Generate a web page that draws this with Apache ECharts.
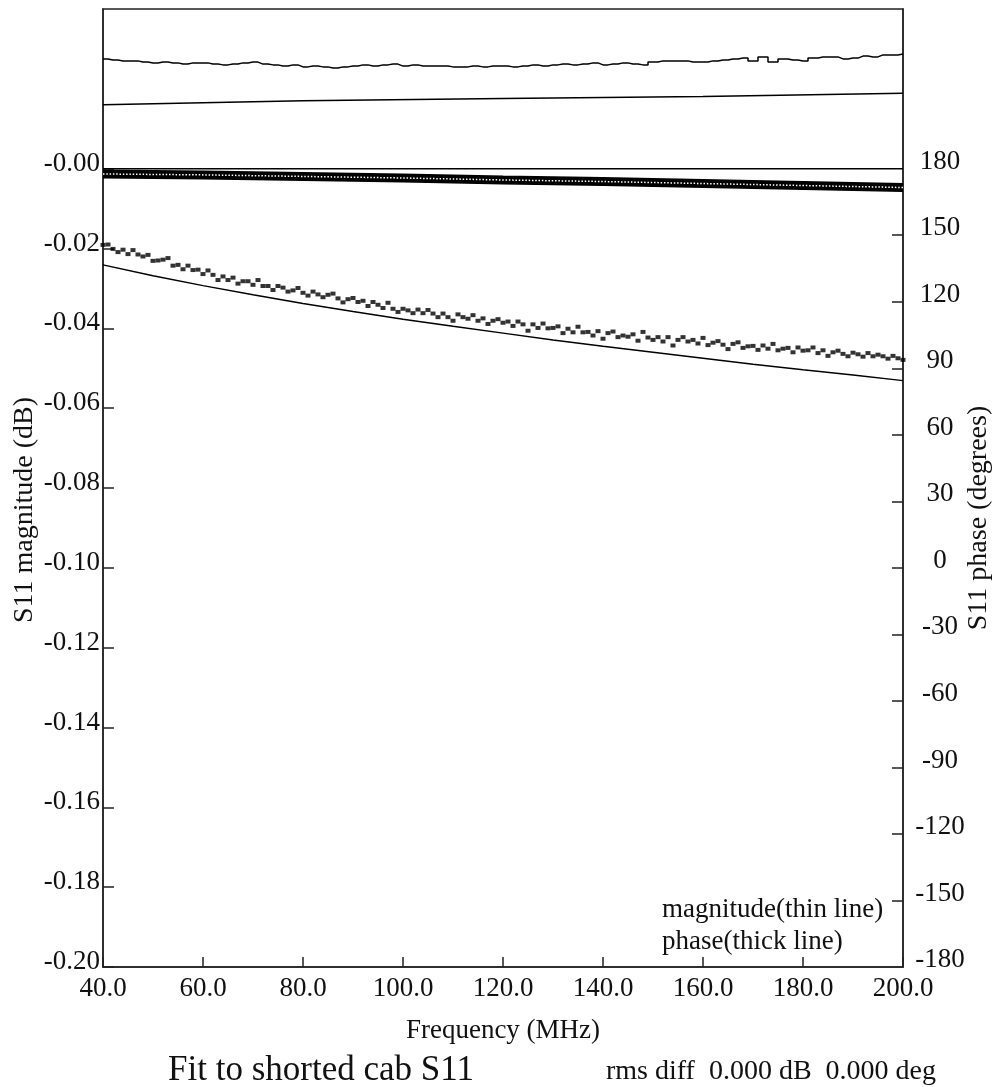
<!DOCTYPE html>
<html>
<head>
<meta charset="utf-8">
<script src="https://cdn.jsdelivr.net/npm/echarts@6/dist/echarts.min.js"></script>
<style>
html,body{margin:0;padding:0;background:#fff;}
#chart{width:993px;height:1087px;}
</style>
</head>
<body>
<div id="chart"></div>
<script>
// ---------------- DATA ----------------
const xTickLabels = ['40.0','60.0','80.0','100.0','120.0','140.0','160.0','180.0','200.0'];
const magTickValues = [-0.20,-0.18,-0.16,-0.14,-0.12,-0.10,-0.08,-0.06,-0.04,-0.02,0];
const phaseLabelValues = [-180,-150,-120,-90,-60,-30,0,30,60,90,120,150,180];
const phaseTickValues = [-150,-120,-90,-60,-30,0,30,60,90,120,150];

// measured magnitude (dots), 1 MHz steps
const freqMeas = [40,41,42,43,44,45,46,47,48,49,50,51,52,53,54,55,56,57,58,59,
60,61,62,63,64,65,66,67,68,69,70,71,72,73,74,75,76,77,78,79,
80,81,82,83,84,85,86,87,88,89,90,91,92,93,94,95,96,97,98,99,
100,101,102,103,104,105,106,107,108,109,110,111,112,113,114,115,116,117,118,119,
120,121,122,123,124,125,126,127,128,129,130,131,132,133,134,135,136,137,138,139,
140,141,142,143,144,145,146,147,148,149,150,151,152,153,154,155,156,157,158,159,
160,161,162,163,164,165,166,167,168,169,170,171,172,173,174,175,176,177,178,179,
180,181,182,183,184,185,186,187,188,189,190,191,192,193,194,195,196,197,198,199,200];
const magMeas = [-0.0191,-0.0190,-0.0201,-0.0209,-0.0203,-0.0214,-0.0204,-0.0215,-0.0220,-0.0216,
-0.0231,-0.0230,-0.0228,-0.0224,-0.0243,-0.0241,-0.0252,-0.0243,-0.0254,-0.0253,
-0.0264,-0.0255,-0.0266,-0.0279,-0.0270,-0.0279,-0.0273,-0.0288,-0.0282,-0.0282,
-0.0291,-0.0279,-0.0294,-0.0294,-0.0304,-0.0294,-0.0298,-0.0308,-0.0305,-0.0299,
-0.0311,-0.0318,-0.0308,-0.0315,-0.0322,-0.0316,-0.0313,-0.0325,-0.0335,-0.0327,
-0.0324,-0.0334,-0.0331,-0.0344,-0.0334,-0.0341,-0.0349,-0.0336,-0.0351,-0.0359,
-0.0351,-0.0355,-0.0362,-0.0353,-0.0362,-0.0354,-0.0363,-0.0372,-0.0363,-0.0372,
-0.0381,-0.0365,-0.0372,-0.0376,-0.0367,-0.0381,-0.0375,-0.0389,-0.0381,-0.0377,
-0.0386,-0.0383,-0.0394,-0.0383,-0.0390,-0.0406,-0.0390,-0.0399,-0.0388,-0.0400,
-0.0399,-0.0395,-0.0412,-0.0401,-0.0410,-0.0396,-0.0410,-0.0409,-0.0418,-0.0407,
-0.0426,-0.0412,-0.0408,-0.0422,-0.0418,-0.0421,-0.0415,-0.0431,-0.0409,-0.0423,
-0.0429,-0.0422,-0.0433,-0.0422,-0.0443,-0.0429,-0.0422,-0.0433,-0.0429,-0.0438,
-0.0424,-0.0442,-0.0436,-0.0432,-0.0441,-0.0452,-0.0439,-0.0435,-0.0449,-0.0445,
-0.0444,-0.0454,-0.0443,-0.0451,-0.0439,-0.0455,-0.0451,-0.0449,-0.0460,-0.0448,
-0.0456,-0.0455,-0.0448,-0.0462,-0.0455,-0.0469,-0.0460,-0.0456,-0.0464,-0.0470,
-0.0461,-0.0465,-0.0471,-0.0462,-0.0470,-0.0466,-0.0470,-0.0476,-0.0469,-0.0475,-0.0479];

// fitted magnitude (thin line)
const freqFit = [40,50,60,70,80,90,100,110,120,130,140,150,160,170,180,190,200];
const magFit = [-0.0241,-0.0268,-0.0293,-0.0316,-0.0338,-0.0358,-0.0377,-0.0395,-0.0412,
-0.0429,-0.0445,-0.0460,-0.0475,-0.0490,-0.0504,-0.0517,-0.0531];

// upper noisy trace, 2 MHz steps
const freqUpper = [40,42,44,46,48,50,52,54,56,58,60,62,64,66,68,70,72,74,76,78,
80,82,84,86,88,90,92,94,96,98,100,102,104,106,108,110,112,114,116,118,
120,122,124,126,128,130,132,134,136,138,140,142,144,146,148,150,152,154,156,158,
160,162,164,166,168,170,172,174,176,178,180,182,184,186,188,190,192,194,196,198,200];
const upperNoisy = [0.0275,0.0272,0.0270,0.0270,0.0267,0.0265,0.0267,0.0265,0.0262,0.0265,
0.0265,0.0262,0.0260,0.0262,0.0265,0.0267,0.0262,0.0260,0.0257,0.0260,
0.0255,0.0257,0.0255,0.0252,0.0255,0.0257,0.0260,0.0257,0.0260,0.0262,
0.0257,0.0260,0.0257,0.0257,0.0257,0.0255,0.0255,0.0257,0.0255,0.0257,
0.0257,0.0255,0.0257,0.0260,0.0257,0.0260,0.0262,0.0260,0.0262,0.0265,
0.0260,0.0262,0.0265,0.0262,0.0260,0.0267,0.0270,0.0270,0.0270,0.0267,
0.0267,0.0270,0.0272,0.0275,0.0277,0.0270,0.0280,0.0267,0.0275,0.0272,
0.0270,0.0277,0.0280,0.0280,0.0275,0.0277,0.0282,0.0280,0.0285,0.0285,0.0287];

// upper smooth trace
const freqUpperFit = [40,80,120,160,200];
const upperFit = [0.0160,0.0170,0.0176,0.0181,0.0189];

// phase (thick line) and fitted phase
const freqPhase = [40,60,80,100,120,140,160,180,200];
const phaseMeas = [177.6,177.2,176.5,175.8,174.9,174.2,173.3,172.4,171.5];
const freqPhaseFit = [40,200];
const phaseFit = [180,180];

// ---------------- CHART ----------------
function pairs(xs, ys){ return xs.map((x,i)=>[x, ys[i]]); }
const FONT = 'Liberation Serif';
const TXT = '#111';
const AX = '#222';

const chart = echarts.init(document.getElementById('chart'), null, {renderer:'canvas'});
chart.setOption({
  backgroundColor:'#fff',
  animation:false,
  grid:{left:103, right:90, top:9, bottom:120, show:true, borderColor:AX, borderWidth:1.5},
  title:[
    {text:'Fit to shorted cab S11', left:163, top:1048,
     textStyle:{fontFamily:FONT, fontSize:35, fontWeight:'normal', color:TXT}},
    {text:'rms diff  0.000 dB  0.000 deg', left:601, top:1053,
     textStyle:{fontFamily:FONT, fontSize:28, fontWeight:'normal', color:TXT}}
  ],
  xAxis:{
    type:'value', min:40, max:200, interval:20,
    axisLine:{onZero:false, lineStyle:{color:AX, width:1.5}},
    axisTick:{inside:true, length:10, lineStyle:{color:AX, width:1.5}},
    splitLine:{show:false},
    axisLabel:{formatter:(v)=>xTickLabels[Math.round((v-40)/20)], fontFamily:FONT, fontSize:27, color:TXT, margin:8},
    name:'Frequency (MHz)', nameLocation:'middle', nameGap:50,
    nameTextStyle:{fontFamily:FONT, fontSize:27, color:TXT}
  },
  yAxis:[
    {type:'value', min:-0.2, max:0.04, interval:0.02, position:'left',
     axisLine:{show:true, onZero:false, lineStyle:{color:AX, width:1.5}},
     axisTick:{show:true, inside:true, length:11, lineStyle:{color:AX, width:1.5}, customValues:magTickValues},
     splitLine:{show:false},
     axisLabel:{customValues:magTickValues, formatter:(v)=>'{a|-'+Math.abs(v).toFixed(2)+'}',
       margin:3,
       rich:{a:{fontFamily:FONT, fontSize:27, color:TXT, padding:[0,0,10,0]}}}
    },
    {type:'value', min:-180, max:252, interval:30, position:'right',
     axisLine:{show:true, onZero:false, lineStyle:{color:AX, width:1.5}},
     axisTick:{show:true, inside:true, length:11, lineStyle:{color:AX, width:1.5}, customValues:phaseTickValues},
     splitLine:{show:false},
     axisLabel:{customValues:phaseLabelValues, formatter:(v)=>'{a|'+String(Math.round(v))+'}',
       margin:37, align:'center',
       rich:{a:{fontFamily:FONT, fontSize:27, color:TXT, align:'center', padding:[0,0,14,0]}}}
    }
  ],
  graphic:[
    {type:'text', rotation:Math.PI/2, x:25, y:510,
     style:{text:'S11 magnitude (dB)', font:'28px "Liberation Serif"', fill:TXT, align:'center', verticalAlign:'middle'}, silent:true},
    {type:'text', rotation:Math.PI/2, x:979, y:518,
     style:{text:'S11 phase (degrees)', font:'28px "Liberation Serif"', fill:TXT, align:'center', verticalAlign:'middle'}, silent:true},
    {type:'text', x:662, y:896,
     style:{text:'magnitude(thin line)', font:'27px "Liberation Serif"', fill:TXT}, silent:true},
    {type:'text', x:662, y:928,
     style:{text:'phase(thick line)', font:'27px "Liberation Serif"', fill:TXT}, silent:true}
  ],
  series:[
    {name:'upper noisy', type:'line', step:'middle', yAxisIndex:0, data:pairs(freqUpper, upperNoisy),
     showSymbol:false, lineStyle:{color:'#000', width:1.5}},
    {name:'upper fit', type:'line', yAxisIndex:0, data:pairs(freqUpperFit, upperFit),
     showSymbol:false, lineStyle:{color:'#000', width:1.5}},
    {name:'phase measured', type:'line', yAxisIndex:1, data:pairs(freqPhase, phaseMeas),
     showSymbol:false, lineStyle:{color:'#000', width:9}},
    {name:'phase measured dots', type:'line', yAxisIndex:1, data:pairs(freqPhase, phaseMeas),
     showSymbol:false, lineStyle:{color:'#fff', width:1.5, type:[1.5,1.8]}},
    {name:'phase fit', type:'line', yAxisIndex:1, data:pairs(freqPhaseFit, phaseFit),
     showSymbol:false, lineStyle:{color:'#000', width:1.5}},
    {name:'magnitude fit', type:'line', yAxisIndex:0, data:pairs(freqFit, magFit),
     showSymbol:false, lineStyle:{color:'#000', width:1.5}},
    {name:'magnitude measured', type:'scatter', yAxisIndex:0, data:pairs(freqMeas, magMeas),
     symbol:'rect', symbolSize:[5,4], itemStyle:{color:'#000'}}
  ]
});
</script>
</body>
</html>
